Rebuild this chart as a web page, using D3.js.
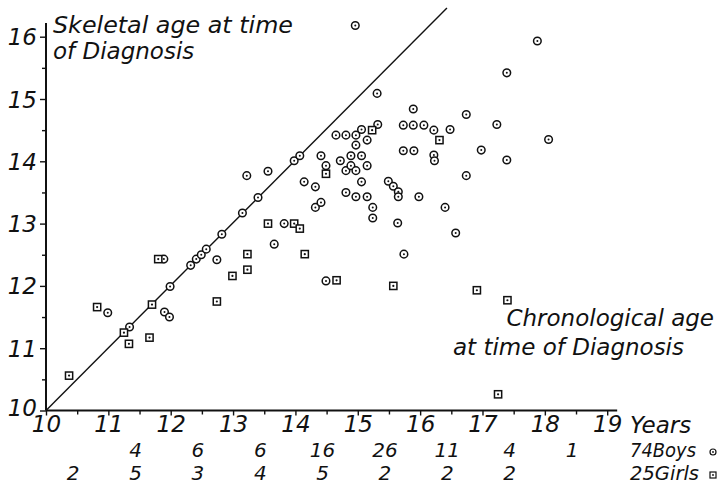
<!DOCTYPE html>
<html><head><meta charset="utf-8">
<script src="https://cdn.jsdelivr.net/npm/d3@7"></script>
<style>
html,body{margin:0;padding:0;background:#fff;}
text{font-family:"DejaVu Sans",sans-serif;font-style:italic;fill:#111;}
</style></head>
<body><svg id="c" width="723" height="486"></svg>
<script>
// Boys: [chronological age, skeletal age]
const boys = [
 [10.99,11.57],[11.34,11.34],[11.89,12.43],[11.90,11.58],[11.98,11.50],[11.99,11.99],
 [12.32,12.33],[12.41,12.43],[12.49,12.50],[12.57,12.59],[12.74,12.42],[12.82,12.83],
 [13.15,13.17],[13.22,13.77],[13.40,13.42],[13.56,13.84],[13.66,12.67],[13.82,13.00],[13.98,14.01],
 [14.07,14.09],[14.14,13.67],[14.32,13.59],[14.32,13.26],[14.41,14.09],[14.41,13.34],[14.49,13.93],
 [14.49,12.08],[14.65,14.42],[14.72,14.01],[14.81,14.42],[14.81,13.85],[14.81,13.50],[14.89,14.09],
 [14.89,13.93],[14.96,16.18],[14.97,14.42],[14.97,14.26],[14.97,13.85],[14.97,13.43],
 [15.06,14.51],[15.06,14.09],[15.06,13.67],[15.15,14.34],[15.15,13.93],[15.15,13.43],[15.24,13.26],
 [15.24,13.09],[15.31,15.09],[15.32,14.59],[15.49,13.68],[15.57,13.60],[15.65,13.51],[15.65,13.43],
 [15.64,13.01],[15.73,14.58],[15.73,14.17],[15.74,12.51],[15.89,14.84],[15.89,14.58],[15.90,14.17],
 [15.98,13.43],
 [16.06,14.58],[16.22,14.50],[16.22,14.10],[16.23,14.01],[16.40,13.26],[16.48,14.51],[16.57,12.85],
 [16.74,14.75],[16.74,13.77],[16.98,14.18],
 [17.23,14.59],[17.39,15.42],[17.39,14.02],[17.88,15.93],[18.06,14.35]
];
// Girls: [chronological age, skeletal age]
const girls = [
 [10.37,10.56],[10.82,11.66],[11.25,11.25],[11.33,11.07],[11.66,11.17],[11.70,11.70],[11.80,12.43],
 [12.74,11.75],[12.99,12.16],[13.23,12.51],[13.23,12.26],[13.56,13.00],[13.98,13.00],[14.07,12.92],
 [14.15,12.51],[14.66,12.09],[14.49,13.80],[15.23,14.50],[15.57,12.00],[16.31,14.34],[16.91,11.93],
 [17.40,11.77],[17.25,10.26]
];
const xTicks = [10,11,12,13,14,15,16,17,18,19];
const yTicks = [10,11,12,13,14,15,16];
const binMids = [10.5,11.5,12.5,13.5,14.5,15.5,16.5,17.5,18.5];
const boyCounts = ["","4","6","6","16","26","11","4","1"];
const girlCounts = ["2","5","3","4","5","2","2","2",""];
const boysTotal = "74Boys", girlsTotal = "25Girls";

const svg = d3.select("#c");
const x = d3.scaleLinear().domain([10,19]).range([46,607.2]);
const y = d3.scaleLinear().domain([10,16]).range([410.5,36.7]);

svg.append("line").attr("x1",x(10)).attr("x2",x(19.16)).attr("y1",y(10)).attr("y2",y(10))
  .attr("stroke","#111").attr("stroke-width",2);
svg.append("line").attr("x1",x(10)).attr("x2",x(10)).attr("y1",y(10)).attr("y2",y(16.22))
  .attr("stroke","#111").attr("stroke-width",2);

const gxm = svg.append("g").attr("transform",`translate(0,${y(10)})`)
  .call(d3.axisBottom(x).tickValues(d3.range(10.5,19,1)).tickSize(4).tickFormat(""));
const gx = svg.append("g").attr("transform",`translate(0,${y(10)})`)
  .call(d3.axisBottom(x).tickValues(xTicks).tickSize(5).tickPadding(0).tickFormat(d3.format("d")));
const gym = svg.append("g").attr("transform",`translate(${x(10)},0)`)
  .call(d3.axisLeft(y).tickValues(d3.range(10.5,16,1)).tickSize(4).tickFormat(""));
const gy = svg.append("g").attr("transform",`translate(${x(10)},0)`)
  .call(d3.axisLeft(y).tickValues(yTicks).tickSize(6).tickPadding(3).tickFormat(d3.format("d")));
[gxm,gx,gym,gy].forEach(g=>{g.select(".domain").remove();g.selectAll("line").attr("stroke","#111").attr("stroke-width",1.4);});
gx.selectAll("text").attr("font-size",23).attr("font-family","DejaVu Sans").attr("font-style","italic").attr("fill","#111");
gy.selectAll("text").attr("font-size",23).attr("font-family","DejaVu Sans").attr("font-style","italic").attr("fill","#111").attr("dy","0.35em");
gy.selectAll(".tick").filter(d=>d===10).select("text").attr("dy","0.2em");

svg.append("line").attr("x1",x(10)).attr("y1",y(10)).attr("x2",x(16.43)).attr("y2",y(16.46))
  .attr("stroke","#111").attr("stroke-width",1.4);

const gb = svg.append("g");
gb.selectAll("circle.o").data(boys).join("circle").attr("class","o")
  .attr("cx",d=>x(d[0])).attr("cy",d=>y(d[1])).attr("r",3.8)
  .attr("fill","#fff").attr("stroke","#111").attr("stroke-width",1.5);
gb.selectAll("circle.d").data(boys).join("circle").attr("class","d")
  .attr("cx",d=>x(d[0])).attr("cy",d=>y(d[1])).attr("r",1).attr("fill","#111");
const gg = svg.append("g");
gg.selectAll("rect").data(girls).join("rect")
  .attr("x",d=>x(d[0])-3.6).attr("y",d=>y(d[1])-3.6).attr("width",7.2).attr("height",7.2)
  .attr("fill","#fff").attr("stroke","#111").attr("stroke-width",1.5);
gg.selectAll("circle").data(girls).join("circle")
  .attr("cx",d=>x(d[0])).attr("cy",d=>y(d[1])).attr("r",1.1).attr("fill","#111");

const t1 = svg.append("text").attr("x",53).attr("y",33).attr("font-size",23);
t1.append("tspan").attr("x",53).attr("y",33).attr("textLength",240).attr("lengthAdjust","spacingAndGlyphs").text("Skeletal age at time");
t1.append("tspan").attr("x",53).attr("y",59).text("of Diagnosis");
const t2 = svg.append("text").attr("font-size",23).attr("text-anchor","end");
t2.append("tspan").attr("x",714).attr("y",326).text("Chronological age");
t2.append("tspan").attr("x",684).attr("y",355).text("at time of Diagnosis");

svg.append("text").attr("x",630).attr("y",433).attr("font-size",23).text("Years");

svg.append("g").selectAll("text").data(binMids.map((m,i)=>[m,boyCounts[i]])).join("text")
  .attr("x",d=>x(d[0])-4).attr("y",457).attr("font-size",20).attr("text-anchor","middle").text(d=>d[1]);
svg.append("g").selectAll("text").data(binMids.map((m,i)=>[m,girlCounts[i]])).join("text")
  .attr("x",d=>x(d[0])-4).attr("y",480).attr("font-size",20).attr("text-anchor","middle").text(d=>d[1]);
svg.append("text").attr("x",630).attr("y",457).attr("font-size",20)
  .attr("textLength",66).attr("lengthAdjust","spacingAndGlyphs").text(boysTotal);
svg.append("text").attr("x",630).attr("y",480).attr("font-size",20)
  .attr("textLength",69).attr("lengthAdjust","spacingAndGlyphs").text(girlsTotal);
svg.append("circle").attr("cx",713).attr("cy",452).attr("r",3).attr("fill","#fff").attr("stroke","#111").attr("stroke-width",1.2);
svg.append("circle").attr("cx",713).attr("cy",452).attr("r",0.9).attr("fill","#111");
svg.append("rect").attr("x",710).attr("y",472).attr("width",6).attr("height",6).attr("fill","#fff").attr("stroke","#111").attr("stroke-width",1.2);
svg.append("circle").attr("cx",713).attr("cy",475).attr("r",0.9).attr("fill","#111");
</script></body></html>
